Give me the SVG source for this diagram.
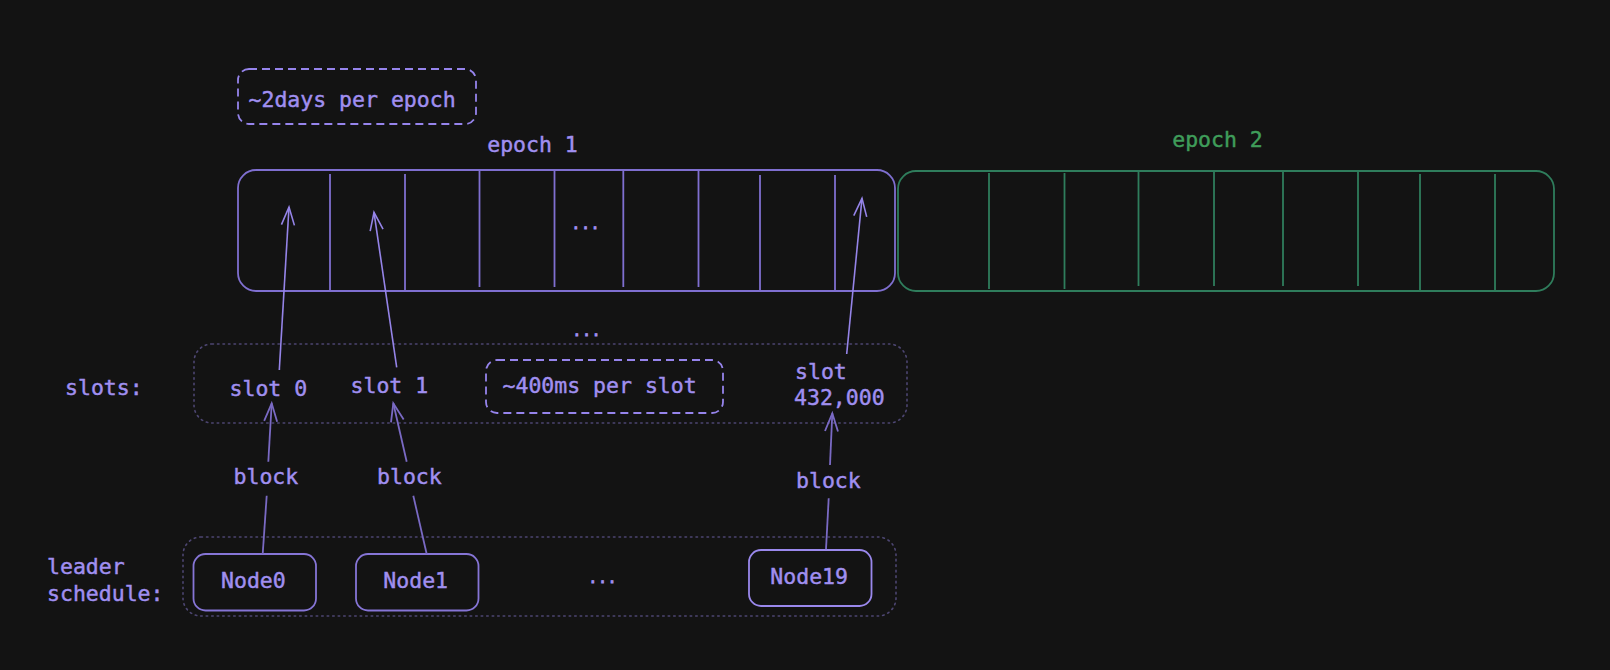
<svg xmlns="http://www.w3.org/2000/svg" width="1610" height="670" viewBox="0 0 1610 670">
<style>
text{font-family:"DejaVu Sans Mono","Liberation Mono",monospace;font-size:21.5px;fill:#a08ff0;stroke:#a08ff0;stroke-width:0.45}
.g{fill:#3f9d5a;stroke:#3f9d5a}
.box1{fill:none;stroke:#7f6fd0;stroke-width:1.8}
.box2{fill:none;stroke:#2f7d5c;stroke-width:1.8}
.div1{stroke:#7f6fd0;stroke-width:1.8}
.div2{stroke:#2f7d5c;stroke-width:1.8}
.dash{fill:none;stroke:#9684ec;stroke-width:1.8;stroke-dasharray:8 5}
.dot{fill:none;stroke:#4d4672;stroke-width:1.6;stroke-dasharray:1.5 4;stroke-linecap:round}
.node{fill:none;stroke:#8675d6;stroke-width:1.8}
.up{fill:none;stroke:#9584e8;stroke-width:1.6;marker-end:url(#ah)}
.blk{fill:none;stroke:#7a6ac4;stroke-width:1.8}
.blka{fill:none;stroke:#7a6ac4;stroke-width:1.8;marker-end:url(#ah2)}
.ell{font-size:16px;stroke-width:0.8}
</style>
<defs>
<marker id="ah" markerUnits="userSpaceOnUse" markerWidth="24" markerHeight="20" viewBox="-20 -10 24 20" refX="0" refY="0" orient="auto" overflow="visible">
<path d="M-18,-6.5 L0,0 L-18,6.5" fill="none" stroke="#9584e8" stroke-width="1.6"/>
</marker>
<marker id="ah2" markerUnits="userSpaceOnUse" markerWidth="24" markerHeight="20" viewBox="-20 -10 24 20" refX="0" refY="0" orient="auto" overflow="visible">
<path d="M-18,-6.5 L0,0 L-18,6.5" fill="none" stroke="#7a6ac4" stroke-width="1.8"/>
</marker>
</defs>
<rect width="1610" height="670" fill="#131313"/>

<g id="note-epoch">
<rect class="dash" x="238" y="69" width="238" height="55" rx="11"/>
<text x="248.5" y="106.5">~2days per epoch</text>
</g>

<g id="epoch1">
<text x="532.5" y="152" text-anchor="middle">epoch 1</text>
<rect class="box1" x="238" y="170" width="657" height="121" rx="18"/>
<line class="div1" x1="330" y1="174" x2="330" y2="291"/>
<line class="div1" x1="405" y1="174" x2="405" y2="291"/>
<line class="div1" x1="479.5" y1="171" x2="479.5" y2="287"/>
<line class="div1" x1="554.5" y1="171" x2="554.5" y2="287"/>
<line class="div1" x1="623.3" y1="171" x2="623.3" y2="287"/>
<line class="div1" x1="698.5" y1="171" x2="698.5" y2="287"/>
<line class="div1" x1="760" y1="175" x2="760" y2="291"/>
<line class="div1" x1="835" y1="175" x2="835" y2="291"/>
<text class="ell" x="585.5" y="229" text-anchor="middle">...</text>
</g>

<g id="epoch2">
<text class="g" x="1217.5" y="147" text-anchor="middle">epoch 2</text>
<rect class="box2" x="898" y="171" width="656" height="120" rx="18"/>
<line class="div2" x1="989" y1="173" x2="989" y2="289"/>
<line class="div2" x1="1064.5" y1="173" x2="1064.5" y2="289"/>
<line class="div2" x1="1138.5" y1="171" x2="1138.5" y2="286"/>
<line class="div2" x1="1214" y1="171" x2="1214" y2="286"/>
<line class="div2" x1="1283" y1="171" x2="1283" y2="286"/>
<line class="div2" x1="1358" y1="171" x2="1358" y2="286"/>
<line class="div2" x1="1420" y1="174" x2="1420" y2="291"/>
<line class="div2" x1="1495" y1="174" x2="1495" y2="291"/>
</g>

<g id="slots-row">
<text class="ell" x="586.5" y="336" text-anchor="middle">...</text>
<text x="65" y="395">slots:</text>
<rect class="dot" x="194" y="344" width="713" height="79" rx="18"/>
</g>
<g id="slot0"><text x="229.5" y="396">slot 0</text></g>
<g id="slot1"><text x="350.5" y="393">slot 1</text></g>
<g id="note-slot">
<rect class="dash" x="486" y="360" width="237" height="53" rx="11"/>
<text x="502.5" y="393">~400ms per slot</text>
</g>
<g id="slot432000">
<text x="795" y="379">slot</text>
<text x="794" y="405">432,000</text>
</g>

<g id="leader-row">
<text x="47" y="574">leader</text>
<text x="47" y="601">schedule:</text>
<rect class="dot" x="183" y="537" width="713" height="79" rx="18"/>
<text class="ell" x="602.5" y="583" text-anchor="middle">...</text>
</g>
<g id="node0">
<rect class="node" x="193.5" y="554" width="122.5" height="56.5" rx="12"/>
<text x="221" y="588">Node0</text>
</g>
<g id="node1">
<rect class="node" x="356" y="554" width="122.5" height="56.5" rx="12"/>
<text x="383.3" y="588">Node1</text>
</g>
<g id="node19">
<rect class="node" x="749" y="550" width="122.5" height="56" rx="12" style="stroke:#9a88ec"/>
<text x="770.3" y="584">Node19</text>
</g>

<g id="connectors">
<line class="up" x1="279.3" y1="370" x2="289" y2="207"/>
<line class="up" x1="396.7" y1="367.3" x2="374" y2="212.3"/>
<line class="up" x1="846.7" y1="354" x2="862" y2="198.3"/>

<line class="blk" x1="262.7" y1="554" x2="266.7" y2="495.7"/>
<line class="blka" x1="268.3" y1="461.7" x2="271.7" y2="403.3"/>
<text x="233.5" y="484.3">block</text>

<line class="blk" x1="426.7" y1="554" x2="413.3" y2="495.7"/>
<line class="blka" x1="406.7" y1="461.7" x2="393.3" y2="403.3"/>
<text x="377" y="484.3">block</text>

<line class="blk" x1="826" y1="549.3" x2="828.7" y2="498.3"/>
<line class="blka" x1="830" y1="465" x2="832.3" y2="413.3"/>
<text x="796" y="487.7">block</text>
</g>
</svg>
